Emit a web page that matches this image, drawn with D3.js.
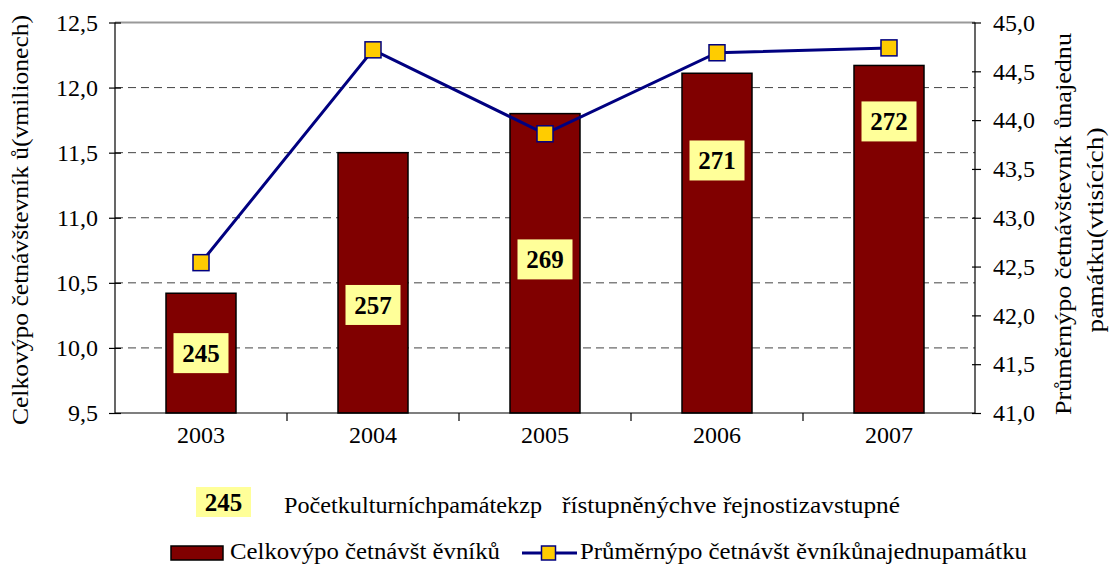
<!DOCTYPE html>
<html><head><meta charset="utf-8">
<script src="https://cdn.jsdelivr.net/npm/d3@7"></script>
<style>body{margin:0;background:#fff}svg{display:block;font-family:"Liberation Serif","Times New Roman",serif}</style>
</head><body><svg id="c" width="1110" height="565" font-family="Liberation Serif, Times New Roman, serif"></svg>
<script>
const years = ["2003","2004","2005","2006","2007"];
const visitors = [10.42, 11.50, 11.80, 12.11, 12.17];
const avgPerMonument = [42.54, 44.72, 43.86, 44.69, 44.74];
const monuments = [245, 257, 269, 271, 272];
const monumentLabelAt = [9.96, 10.33, 10.68, 11.44, 11.74];
const leftTicks = [9.5, 10.0, 10.5, 11.0, 11.5, 12.0, 12.5];
const rightTicks = [41.0, 41.5, 42.0, 42.5, 43.0, 43.5, 44.0, 44.5, 45.0];
const leftTitle = "Celkovýpo četnávštevník ů(vmilionech)";
const rightTitle = ["Průměrnýpo četnávštevník ůnajednu", "památku(vtisících)"];
const legendNote = ["Početkulturníchpamátekzp", "řístupněnýchve řejnostizavstupné"];
const legendBar = "Celkovýpo četnávšt ěvníků";
const legendLine = "Průměrnýpo četnávšt ěvníkůnajednupamátku";

const svg = d3.select("#c");
const L = 115, R = 975, T = 22.5, B = 413;
const fmt = d => d3.format(".1f")(d).replace(".", ",");

const xb = d3.scaleBand().domain(years).range([L, R]);
const cx = d => xb(d) + xb.bandwidth()/2;
const yL = d3.scaleLinear().domain([9.5, 12.5]).range([B, T]);
const yR = d3.scaleLinear().domain([41, 45]).range([B, T]);

// gridlines
svg.append("g").selectAll("line").data(leftTicks.filter(t => t > 9.5 && t < 12.5)).join("line")
  .attr("x1", L).attr("x2", R).attr("y1", d => yL(d)).attr("y2", d => yL(d))
  .attr("stroke", "#444").attr("stroke-dasharray", "8,5").attr("stroke-width", 1);
svg.append("line").attr("x1", L).attr("x2", R).attr("y1", T).attr("y2", T).attr("stroke", "#999").attr("stroke-width", 2);

// bars
svg.append("g").selectAll("rect").data(years).join("rect")
  .attr("x", d => cx(d) - 35)
  .attr("width", 70)
  .attr("y", (d, i) => yL(visitors[i]))
  .attr("height", (d, i) => B - yL(visitors[i]))
  .attr("fill", "#800000").attr("stroke", "#000").attr("stroke-width", 1.5);

// axes
const axL = svg.append("g").attr("transform", `translate(${L},0)`)
  .call(d3.axisLeft(yL).tickValues(leftTicks).tickFormat(fmt).tickSize(6).tickPadding(11));
const axR = svg.append("g").attr("transform", `translate(${R},0)`)
  .call(d3.axisRight(yR).tickValues(rightTicks).tickFormat(fmt).tickSize(6).tickPadding(12));
const axB = svg.append("g").attr("transform", `translate(0,${B})`)
  .call(d3.axisBottom(xb).tickSize(0).tickPadding(12));
[axL, axR, axB].forEach(a => {
  a.attr("font-family", null);
  a.selectAll("text").attr("font-size", 24).attr("fill", "#000");
  a.selectAll("line,path").attr("stroke", "#000").attr("stroke-width", 1.2);
});
axB.selectAll("text").attr("dy", "0.75em");
axL.selectAll(".tick line").attr("x1", -6).attr("x2", 6);
axR.selectAll(".tick line").attr("x1", -3).attr("x2", 6);
axL.select(".domain").attr("d", `M0,${T}V${B}`);
axR.select(".domain").attr("d", `M0,${T}V${B}`);
axB.select(".domain").attr("d", `M${L},0H${R}`);
// category separators
svg.append("g").selectAll("line").data(years.slice(1)).join("line")
  .attr("x1", d => xb(d)).attr("x2", d => xb(d)).attr("y1", B).attr("y2", B + 8)
  .attr("stroke", "#000").attr("stroke-width", 1.2);

// line
svg.append("path").datum(years)
  .attr("d", d3.line().x(cx).y((d, i) => yR(avgPerMonument[i])))
  .attr("fill", "none").attr("stroke", "#000080").attr("stroke-width", 3);
svg.append("g").selectAll("rect").data(years).join("rect")
  .attr("x", d => cx(d) - 8).attr("y", (d, i) => yR(avgPerMonument[i]) - 8)
  .attr("width", 16).attr("height", 16)
  .attr("fill", "#FFCC00").attr("stroke", "#000080").attr("stroke-width", 1.5);

// monument labels
const lab = svg.append("g").selectAll("g").data(years).join("g")
  .attr("transform", (d, i) => `translate(${cx(d)},${yL(monumentLabelAt[i])})`);
lab.append("rect").attr("x", -27.5).attr("y", -20).attr("width", 55).attr("height", 40).attr("fill", "#FFFF99");
lab.append("text").attr("text-anchor", "middle").attr("dy", "0.35em")
  .attr("font-size", 25).attr("font-weight", "bold").text((d, i) => monuments[i]);

// axis titles
svg.append("text").attr("transform", `translate(28,220) rotate(-90)`)
  .attr("text-anchor", "middle").attr("font-size", 24)
  .attr("textLength", 410).attr("lengthAdjust", "spacingAndGlyphs").text(leftTitle);
const rtLen = [382, 205], rtX = [1071, 1103], rtY = [224, 230];
svg.append("g").selectAll("text").data(rightTitle).join("text")
  .attr("transform", (d, i) => `translate(${rtX[i]},${rtY[i]}) rotate(-90)`)
  .attr("text-anchor", "middle").attr("font-size", 24)
  .attr("textLength", (d, i) => rtLen[i]).attr("lengthAdjust", "spacingAndGlyphs").text(d => d);

// legend
svg.append("rect").attr("x", 196).attr("y", 487).attr("width", 55).attr("height", 30).attr("fill", "#FFFF99");
svg.append("text").attr("x", 223.5).attr("y", 502).attr("dy", "0.35em").attr("text-anchor", "middle")
  .attr("font-size", 25).attr("font-weight", "bold").text(monuments[0]);
const noteX = [284, 562], noteLen = [258, 338];
svg.append("g").selectAll("text").data(legendNote).join("text")
  .attr("x", (d, i) => noteX[i]).attr("y", 513).attr("font-size", 24)
  .attr("textLength", (d, i) => noteLen[i]).attr("lengthAdjust", "spacingAndGlyphs").text(d => d);

svg.append("rect").attr("x", 171).attr("y", 546).attr("width", 52).attr("height", 14)
  .attr("fill", "#800000").attr("stroke", "#000").attr("stroke-width", 1.5);
svg.append("text").attr("x", 230).attr("y", 559).attr("font-size", 23)
  .attr("textLength", 270).attr("lengthAdjust", "spacingAndGlyphs").text(legendBar);
svg.append("line").attr("x1", 522).attr("x2", 577).attr("y1", 553).attr("y2", 553).attr("stroke", "#000080").attr("stroke-width", 3);
svg.append("rect").attr("x", 541.5).attr("y", 546).attr("width", 14).attr("height", 14)
  .attr("fill", "#FFCC00").attr("stroke", "#000080").attr("stroke-width", 1.5);
svg.append("text").attr("x", 580).attr("y", 559).attr("font-size", 23)
  .attr("textLength", 447).attr("lengthAdjust", "spacingAndGlyphs").text(legendLine);
</script></body></html>
